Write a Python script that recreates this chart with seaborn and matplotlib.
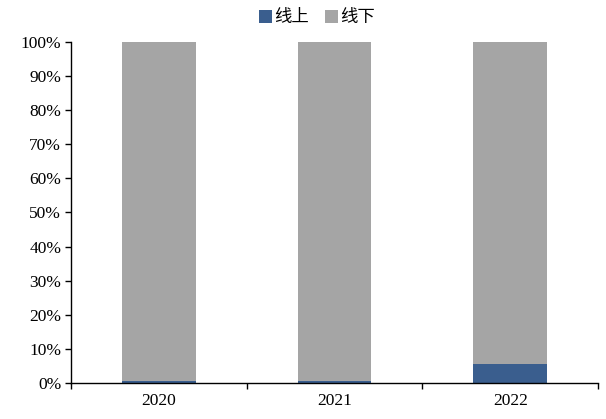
import matplotlib
matplotlib.use("Agg")
import matplotlib.pyplot as plt
from matplotlib.patches import Patch
from matplotlib.ticker import PercentFormatter, FixedLocator
import seaborn as sns
import pandas as pd

years = ["2020", "2021", "2022"]
online = [0.5, 0.6, 5.5]
offline = [99.5, 99.4, 94.5]
series_names = ["线上", "线下"]
colors = ["#3A5E8E", "#A5A5A5"]

sns.set_theme(style="white")
plt.rcParams["font.family"] = ["Liberation Serif", "Noto Sans CJK SC"]
plt.rcParams["text.color"] = "black"
plt.rcParams["xtick.color"] = "black"
plt.rcParams["ytick.color"] = "black"

df = pd.DataFrame({"year": years, "online": online, "offline": offline})
df["total"] = df["online"] + df["offline"]

fig = plt.figure(figsize=(6.06, 4.19), dpi=100)
ax = fig.add_axes([0.117, 0.086, 0.87, 0.814])

sns.barplot(data=df, x="year", y="total", color=colors[1], width=0.42,
            saturation=1, edgecolor="none", linewidth=0, ax=ax)
sns.barplot(data=df, x="year", y="online", color=colors[0], width=0.42,
            saturation=1, edgecolor="none", linewidth=0, ax=ax)

ax.set_xlim(-0.5, 2.5)
ax.set_ylim(0, 100)
ax.set_xlabel("")
ax.set_ylabel("")
ax.set_yticks(range(0, 101, 10))
ax.yaxis.set_major_formatter(PercentFormatter(decimals=0))

for s in ["top", "right"]:
    ax.spines[s].set_visible(False)
for s in ["left", "bottom"]:
    ax.spines[s].set_color("black")
    ax.spines[s].set_linewidth(1.0)

ax.tick_params(axis="y", which="major", direction="out", length=4, width=1,
               color="black", labelcolor="black", labelsize=12.5, pad=3, left=True)
ax.tick_params(axis="x", which="major", length=0, labelsize=12.5,
               labelcolor="black", pad=7)
ax.xaxis.set_minor_locator(FixedLocator([-0.5, 0.5, 1.5, 2.5]))
ax.tick_params(axis="x", which="minor", direction="out", length=4, width=1,
               color="black", bottom=True)

handles = [Patch(facecolor=c, edgecolor="none") for c in colors]
leg = ax.legend(handles, series_names, loc="lower center", bbox_to_anchor=(0.467, 1.0),
                ncol=2, frameon=False, handlelength=0.75, handleheight=0.75,
                handletextpad=0.15, columnspacing=0.9,
                prop={"family": ["Noto Sans CJK SC"], "size": 12.5})
for t in leg.get_texts():
    t.set_color("black")

fig.savefig("out.png", dpi=100)
